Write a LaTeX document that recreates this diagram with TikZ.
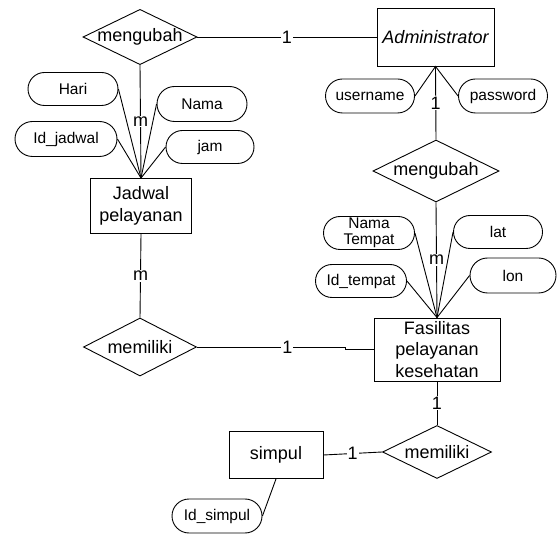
\documentclass[tikz,border=0pt]{standalone}
\usepackage{fontspec}
\setmainfont{Liberation Sans}
\usetikzlibrary{
shapes,
}

\begin{document}
\begin{tikzpicture}[x=1pt, y=-1pt, line width=0.9pt,
		entity/.style={draw, rectangle, inner sep=0pt, align=center, font=\fontsize{18}{21.6}\selectfont},
		relation/.style={draw, diamond, aspect=2, inner ysep=0pt, inner xsep=-4pt, font=\fontsize{18}{21.6}\selectfont},
		attrib/.style={draw, rounded rectangle, inner sep=0pt, align=center, font=\fontsize{15.5}{16}\selectfont},
		card/.style={fill=white, inner sep=1pt, font=\fontsize{18}{21.6}\selectfont}]
			\useasboundingbox (0,0) rectangle (557,534);

			\node[relation, minimum width=114, minimum height=55] (ubahjadwal) at (140,37) {mengubah};
			\node[entity, minimum width=117, minimum height=58] (admin) at (435.5,37) {\itshape Administrator};
			\node[attrib, minimum width=89, minimum height=34] (username) at (370,96) {username};
			\node[attrib, minimum width=89, minimum height=34] (password) at (503,96) {password};
			\node[relation, minimum width=126, minimum height=62] (ubahfasilitas) at (436,171) {mengubah};

			\node[attrib, minimum width=91, minimum height=33] (namatempat) at (369,233) {Nama\\Tempat};
			\node[attrib, minimum width=89, minimum height=33] (lat) at (498,232) {lat};
			\node[attrib, minimum width=91, minimum height=33] (idtempat) at (361,281) {Id\_tempat};
			\node[attrib, minimum width=86, minimum height=35] (lon) at (513,275.5) {lon};
			\node[entity, minimum width=126, minimum height=63] (fasilitas) at (437,349.5) {Fasilitas\\pelayanan\\kesehatan};

			\node[attrib, minimum width=90, minimum height=33] (hari) at (73,89) {Hari};
			\node[attrib, minimum width=90, minimum height=35] (nama) at (202,104) {Nama};
			\node[attrib, minimum width=102, minimum height=35] (idjadwal) at (66,139) {Id\_jadwal};
			\node[attrib, minimum width=88, minimum height=33] (jam) at (210,147) {jam};
			\node[entity, minimum width=101, minimum height=55] (jadwal) at (141,206) {Jadwal\\pelayanan};

			\node[relation, minimum width=113, minimum height=58] (milikijadwal) at (140,347) {memiliki};
			\node[relation, minimum width=109, minimum height=53] (milikisimpul) at (437,452) {memiliki};
			\node[entity, minimum width=94, minimum height=47] (simpul) at (276,455) {simpul};
			\node[attrib, minimum width=90, minimum height=34] (idsimpul) at (217,516) {Id\_simpul};

			\coordinate (jog) at (345,347);

			\draw (ubahjadwal) -- node[card]{1} (admin);
			\draw (ubahjadwal.south) -- node[card]{m} (jadwal.north);
			\draw (admin.south) -- node[card]{1} (ubahfasilitas.north);
			\draw (ubahfasilitas.south) -- node[card]{m} (fasilitas.north);
			\draw (jadwal.south) -- node[card]{m} (milikijadwal.north);
			\draw (milikijadwal.east) -- node[card, pos=0.61]{1} (jog) |- (fasilitas.west);
			\draw (fasilitas.south) -- node[card]{1} (milikisimpul.north);
			\draw (milikisimpul.west) -- node[card]{1} (simpul.east);

			\draw (username.east) -- (admin.south) -- (password.west);
			\foreach \a in {hari, idjadwal} \draw (\a.east) -- (jadwal.north);
			\foreach \a in {nama, jam} \draw (\a.west) -- (jadwal.north);
			\foreach \a in {namatempat, idtempat} \draw (\a.east) -- (fasilitas.north);
			\foreach \a in {lat, lon} \draw (\a.west) -- (fasilitas.north);
			\draw (simpul.south) -- (idsimpul.east);
		\end{tikzpicture}
\end{document}
